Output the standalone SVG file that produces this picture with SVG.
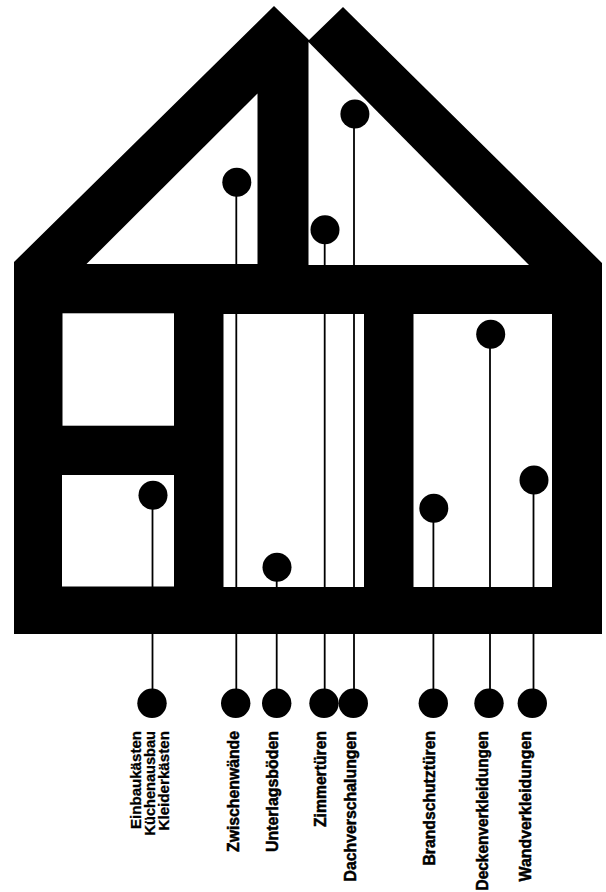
<svg xmlns="http://www.w3.org/2000/svg" width="606" height="892" viewBox="0 0 606 892">
<style>
.blk{fill:#000}
.win{fill:#fff}
.ln{stroke:#000;stroke-width:1.8;fill:none}
.pin{fill:#000}
.lbl{font-family:"Liberation Sans",Arial,Helvetica,sans-serif;font-weight:bold;font-size:16px;fill:#000;stroke:#000;stroke-width:0.5;text-anchor:end}
.sm{font-size:14.5px;stroke-width:0.3}
</style>
<rect width="606" height="892" fill="#fff"/>
<g id="house">
<polygon class="blk" points="14,634 14,262 274,6 309,40 343,7 602,263 602,634"/>
<polygon class="win" points="86.5,264 257.5,93.5 257.5,264"/>
<polygon class="win" points="308.5,42 529,265 308.5,265"/>
<rect class="win" x="62.5" y="313.3" width="111.5" height="112.4"/>
<rect class="win" x="62" y="475" width="112" height="111.5"/>
<rect class="win" x="223.5" y="314" width="140.5" height="273"/>
<rect class="win" x="413.5" y="314" width="138.5" height="273"/>
</g>
<g id="connectors">
<line class="ln" x1="152.5" y1="495" x2="152.5" y2="703"/>
<line class="ln" x1="236.3" y1="182" x2="236.3" y2="703"/>
<line class="ln" x1="276.7" y1="567" x2="276.7" y2="703"/>
<line class="ln" x1="324.7" y1="230" x2="324.7" y2="703"/>
<line class="ln" x1="354" y1="114" x2="354" y2="703"/>
<line class="ln" x1="433.4" y1="508" x2="433.4" y2="703"/>
<line class="ln" x1="490" y1="334" x2="490" y2="703"/>
<line class="ln" x1="533.5" y1="480" x2="533.5" y2="703"/>
</g>
<g id="einbau">
<circle class="pin" cx="153" cy="495.3" r="14.5"/>
<circle class="pin" cx="152" cy="703.3" r="14.7"/>
<text class="lbl sm" transform="translate(141,731) rotate(-90)" textLength="98" lengthAdjust="spacingAndGlyphs">Einbaukästen</text>
<text class="lbl sm" transform="translate(155,731) rotate(-90)" textLength="104.5" lengthAdjust="spacingAndGlyphs">Küchenausbau</text>
<text class="lbl sm" transform="translate(168.5,731) rotate(-90)" textLength="99.5" lengthAdjust="spacingAndGlyphs">Kleiderkästen</text>
</g>
<g id="zwischenwaende">
<circle class="pin" cx="236.8" cy="182.3" r="14.5"/>
<circle class="pin" cx="235.7" cy="703.3" r="14.7"/>
<text class="lbl" transform="translate(239,731) rotate(-90)" textLength="121" lengthAdjust="spacingAndGlyphs">Zwischenwände</text>
</g>
<g id="unterlagsboeden">
<circle class="pin" cx="277" cy="567.3" r="14.5"/>
<circle class="pin" cx="276.7" cy="703.3" r="14.7"/>
<text class="lbl" transform="translate(277.5,731) rotate(-90)" textLength="121" lengthAdjust="spacingAndGlyphs">Unterlagsböden</text>
</g>
<g id="zimmertueren">
<circle class="pin" cx="325" cy="229.7" r="14.5"/>
<circle class="pin" cx="324" cy="703.3" r="14.7"/>
<text class="lbl" transform="translate(326.3,731) rotate(-90)" textLength="96" lengthAdjust="spacingAndGlyphs">Zimmertüren</text>
</g>
<g id="dachverschalungen">
<circle class="pin" cx="354.9" cy="114" r="14.5"/>
<circle class="pin" cx="353.3" cy="703.3" r="14.7"/>
<text class="lbl" transform="translate(355.5,731) rotate(-90)" textLength="150.5" lengthAdjust="spacingAndGlyphs">Dachverschalungen</text>
</g>
<g id="brandschutztueren">
<circle class="pin" cx="433.8" cy="508.3" r="14.5"/>
<circle class="pin" cx="433.3" cy="703.3" r="14.7"/>
<text class="lbl" transform="translate(435.3,731) rotate(-90)" textLength="134.5" lengthAdjust="spacingAndGlyphs">Brandschutztüren</text>
</g>
<g id="deckenverkleidungen">
<circle class="pin" cx="490.7" cy="334.3" r="14.5"/>
<circle class="pin" cx="489" cy="703.3" r="14.7"/>
<text class="lbl" transform="translate(488.3,731) rotate(-90)" textLength="159.5" lengthAdjust="spacingAndGlyphs">Deckenverkleidungen</text>
</g>
<g id="wandverkleidungen">
<circle class="pin" cx="534" cy="480" r="14.5"/>
<circle class="pin" cx="532.3" cy="703.3" r="14.7"/>
<text class="lbl" transform="translate(531,731) rotate(-90)" textLength="150.5" lengthAdjust="spacingAndGlyphs">Wandverkleidungen</text>
</g>
</svg>
